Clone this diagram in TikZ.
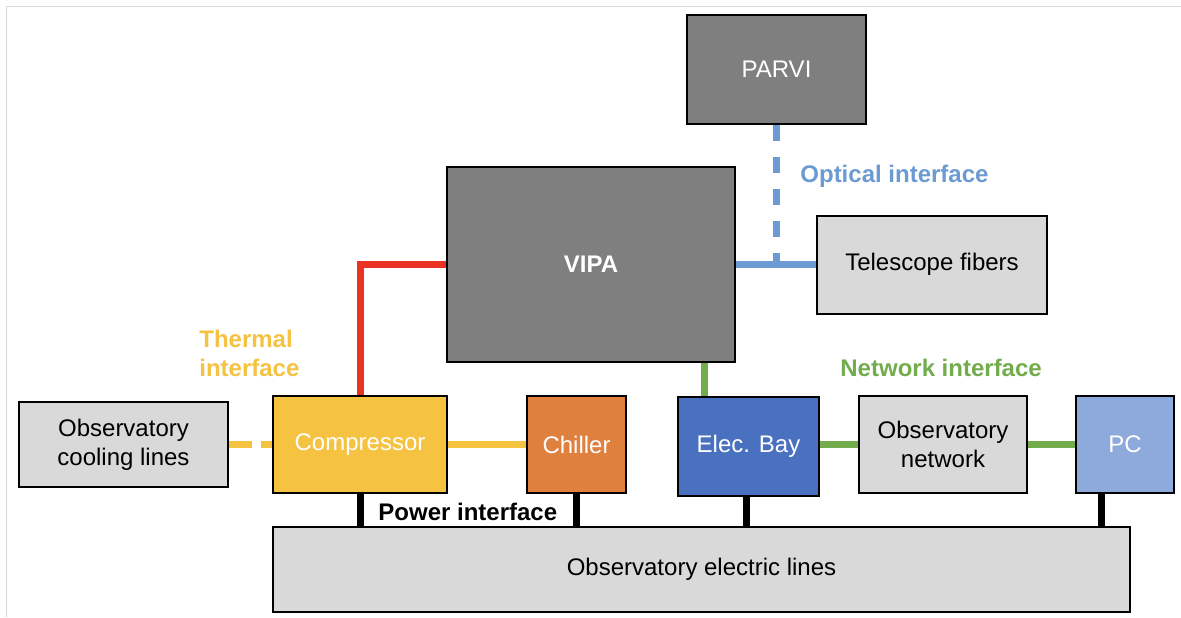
\documentclass[tikz,border=0pt]{standalone}
\usepackage{fontspec}
\setmainfont{Liberation Sans}
\definecolor{darkbox}{HTML}{7F7F7F}
\definecolor{lightbox}{HTML}{D9D9D9}
\definecolor{compfill}{HTML}{F5C242}
\definecolor{chillfill}{HTML}{E0803F}
\definecolor{elecfill}{HTML}{4A71BF}
\definecolor{pcfill}{HTML}{8EA9DB}
\definecolor{heatred}{HTML}{EA3323}
\definecolor{opticblue}{HTML}{6B9BD2}
\definecolor{netgreen}{HTML}{72AC4D}
\begin{document}
\begin{tikzpicture}[x=0.5pt,y=-0.5pt,
  box/.style={draw=black,line width=1pt,inner sep=0pt,align=center,font=\fontsize{12pt}{14.5pt}\selectfont},
  link/.style={line width=3.5pt},
  tag/.style={inner sep=0pt,anchor=west,align=left,font=\fontsize{12pt}{14.5pt}\selectfont\bfseries}]
\useasboundingbox (0,0) rectangle (1181,617);
\draw[lightbox,line width=0.5pt] (6,617) -- (6,6) -- (1181,6);
% instruments
\node[box,fill=darkbox,text=white,minimum width=89.5pt,minimum height=54.5pt] (parvi) at (776.5,69.5) {PARVI};
\node[box,fill=darkbox,text=white,minimum width=144pt,minimum height=97.5pt,font=\fontsize{12pt}{14.5pt}\selectfont\bfseries] (vipa) at (591,264.5) {VIPA};
\node[box,fill=lightbox,minimum width=115pt,minimum height=49pt] (fibers) at (932,264.5) {Telescope fibers};
% middle row
\node[box,fill=lightbox,minimum width=104.5pt,minimum height=42.5pt] (cooling) at (123.5,444.5) {Observatory\\cooling lines};
\node[box,fill=compfill,text=white,minimum width=87pt,minimum height=48.5pt] (comp) at (360,444.5) {Compressor};
\node[box,fill=chillfill,text=white,minimum width=49.5pt,minimum height=48.5pt] (chiller) at (576.5,444.5) {Chiller};
\node[box,fill=elecfill,text=white,minimum width=70.5pt,minimum height=49.5pt] (elec) at (748.5,446.5) {Elec. Bay};
\node[box,fill=lightbox,minimum width=84pt,minimum height=48.5pt] (obsnet) at (943,444.5) {Observatory\\network};
\node[box,fill=pcfill,text=white,minimum width=49pt,minimum height=48.5pt] (pc) at (1125,444.5) {PC};
% power
\node[box,fill=lightbox,minimum width=428.5pt,minimum height=42.5pt] (grid) at (701.5,569.5) {Observatory electric lines};
% thermal
\draw[link,heatred] (comp.north) |- (vipa.west);
\draw[link,compfill,dash pattern=on 11.5pt off 4.5pt] (cooling.east) -- (comp.west);
\draw[link,compfill] (comp.east) -- (chiller.west);
\node[tag,text=compfill] (thermal) at (199,353.5) {Thermal\\interface};
% optical
\draw[link,opticblue] (vipa.east) -- (fibers.west);
\draw[link,opticblue,dash pattern=on 8pt off 8pt] (parvi.south) -- (parvi.south |- fibers.west);
\node[tag,text=opticblue] (optical) at (800,176) {Optical interface};
% network
\draw[link,netgreen] ([xshift=-22pt]elec.north) -- ([xshift=-22pt]elec.north |- vipa.south);
\draw[link,netgreen] (obsnet.west -| elec.east) -- (obsnet.west);
\draw[link,netgreen] (obsnet.east) -- (pc.west);
\node[tag,text=netgreen] (network) at (840,368) {Network interface};
% power
\draw[link] (comp.south) -- (comp.south |- grid.north);
\draw[link] (chiller.south) -- (chiller.south |- grid.north);
\draw[link] ([xshift=-1pt]elec.south) -- ([xshift=-1pt]elec.south |- grid.north);
\draw[link] ([xshift=-12pt]pc.south) -- ([xshift=-12pt]pc.south |- grid.north);
\node[tag] (power) at (378,512) {Power interface};
\end{tikzpicture}
\end{document}
